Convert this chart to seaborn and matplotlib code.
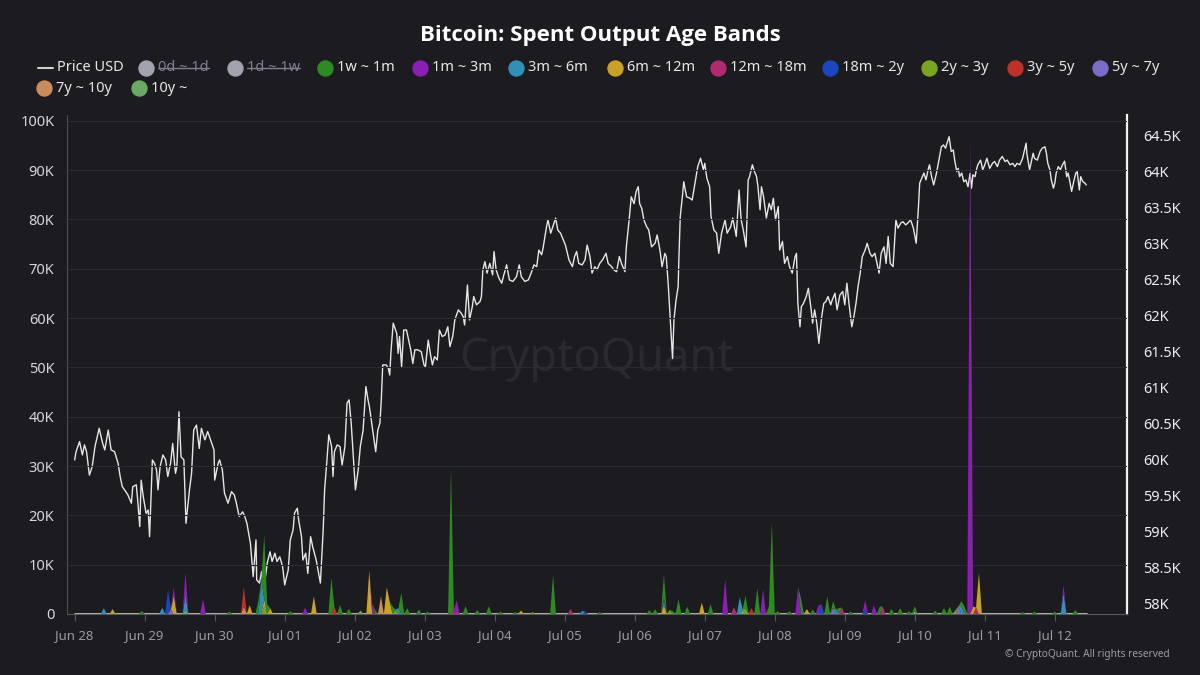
import numpy as np
import pandas as pd
import matplotlib
matplotlib.use("Agg")
import matplotlib.pyplot as plt
from matplotlib.lines import Line2D
import seaborn as sns

BG = "#1b1b20"

# x axis: days since Jun 28 00:00
day_labels = ["Jun 28", "Jun 29", "Jun 30", "Jul 01", "Jul 02", "Jul 03", "Jul 04",
              "Jul 05", "Jul 06", "Jul 07", "Jul 08", "Jul 09", "Jul 10", "Jul 11", "Jul 12"]

btc_ticks = [0, 10000, 20000, 30000, 40000, 50000, 60000, 70000, 80000, 90000, 100000]
btc_tick_labels = ["0", "10K", "20K", "30K", "40K", "50K", "60K", "70K", "80K", "90K", "100K"]
usd_ticks = [58000, 58500, 59000, 59500, 60000, 60500, 61000, 61500,
             62000, 62500, 63000, 63500, 64000, 64500]
usd_tick_labels = ["58K", "58.5K", "59K", "59.5K", "60K", "60.5K", "61K", "61.5K",
                   "62K", "62.5K", "63K", "63.5K", "64K", "64.5K"]

# Price USD
price_day = [
    0.00, 0.02, 0.07, 0.11, 0.14, 0.17, 0.21, 0.25, 0.29, 0.35,
    0.40, 0.43, 0.48, 0.52, 0.57, 0.62, 0.65, 0.68, 0.73, 0.76,
    0.81, 0.83, 0.88, 0.90, 0.93, 0.95, 0.98, 1.02, 1.05, 1.07,
    1.11, 1.14, 1.17, 1.19, 1.22, 1.26, 1.30, 1.33, 1.37, 1.40,
    1.44, 1.46, 1.49, 1.52, 1.56, 1.59, 1.62, 1.64, 1.67, 1.70,
    1.74, 1.78, 1.81, 1.86, 1.90, 1.95, 1.99, 2.00, 2.05, 2.07,
    2.11, 2.14, 2.19, 2.24, 2.28, 2.31, 2.35, 2.40, 2.43, 2.46,
    2.51, 2.55, 2.59, 2.60, 2.64, 2.67, 2.69, 2.72, 2.75, 2.79,
    2.82, 2.86, 2.89, 2.93, 2.97, 3.00, 3.05, 3.08, 3.12, 3.14,
    3.18, 3.20, 3.24, 3.26, 3.30, 3.33, 3.37, 3.40, 3.45, 3.51,
    3.55, 3.57, 3.60, 3.63, 3.67, 3.69, 3.71, 3.75, 3.79, 3.82,
    3.86, 3.89, 3.92, 3.95, 3.98, 4.01, 4.05, 4.08, 4.12, 4.16,
    4.19, 4.21, 4.25, 4.30, 4.33, 4.36, 4.38,
    4.40, 4.45, 4.48, 4.50, 4.52, 4.55, 4.60, 4.62, 4.64, 4.67,
    4.70, 4.74, 4.76, 4.80, 4.83, 4.86, 4.90, 4.95, 4.99, 5.01,
    5.05, 5.08, 5.11, 5.14, 5.18, 5.21, 5.25, 5.29, 5.33, 5.36,
    5.40, 5.43, 5.48, 5.52, 5.55, 5.57, 5.61, 5.64, 5.68, 5.70,
    5.74, 5.79, 5.81, 5.83, 5.86, 5.89, 5.93, 5.97, 5.99, 6.02,
    6.06, 6.10, 6.13, 6.17, 6.21, 6.26, 6.31, 6.35, 6.38, 6.43,
    6.48, 6.52, 6.56, 6.60, 6.63, 6.67, 6.69, 6.74, 6.76, 6.80,
    6.83, 6.87, 6.90, 6.94, 6.98, 7.01, 7.06, 7.11, 7.14, 7.17,
    7.20, 7.25, 7.29, 7.32, 7.36, 7.39, 7.43, 7.46, 7.50, 7.54,
    7.59, 7.62, 7.67, 7.70, 7.74, 7.78, 7.81, 7.86, 7.88, 7.92,
    7.95, 7.99, 8.02, 8.05, 8.07, 8.10, 8.13, 8.17, 8.20, 8.24,
    8.29, 8.32, 8.36, 8.39, 8.43, 8.45, 8.48, 8.50, 8.52, 8.54,
    8.56, 8.59, 8.62, 8.63, 8.65, 8.68, 8.70, 8.74, 8.79, 8.82,
    8.86, 8.90, 8.94, 8.98, 9.00, 9.03, 9.07, 9.09, 9.13, 9.17,
    9.20, 9.24, 9.29, 9.32, 9.37, 9.40, 9.45, 9.49, 9.52, 9.55,
    9.59, 9.62,
    9.64, 9.68, 9.71, 9.74, 9.76, 9.79, 9.81, 9.84, 9.88, 9.92,
    9.95, 9.98, 10.01, 10.05, 10.07, 10.11, 10.14, 10.18, 10.21, 10.25,
    10.29, 10.31, 10.33, 10.36, 10.38, 10.41, 10.45, 10.48, 10.52, 10.54,
    10.57, 10.60, 10.63, 10.67, 10.70, 10.73, 10.76, 10.80, 10.82, 10.86,
    10.89, 10.93, 10.97, 11.00, 11.03, 11.06, 11.10, 11.13, 11.16, 11.19,
    11.22, 11.25, 11.29, 11.32, 11.36, 11.39, 11.43, 11.46, 11.49, 11.52,
    11.56, 11.59, 11.62, 11.65, 11.69, 11.73, 11.76, 11.80, 11.83, 11.87,
    11.90, 11.94, 11.98, 12.02, 12.05, 12.07, 12.10, 12.13, 12.16, 12.19,
    12.21, 12.24, 12.27, 12.31, 12.35, 12.38, 12.41, 12.44, 12.46, 12.49,
    12.52, 12.55, 12.57, 12.60, 12.62, 12.64, 12.67, 12.70, 12.73, 12.76,
    12.79, 12.81, 12.83, 12.86, 12.88, 12.90, 12.94, 12.97, 13.00, 13.03,
    13.07, 13.11, 13.14, 13.18, 13.21, 13.25, 13.29, 13.32, 13.36, 13.40,
    13.43, 13.46, 13.50, 13.54, 13.59, 13.60, 13.64, 13.67, 13.69, 13.71,
    13.75, 13.79, 13.82, 13.86, 13.88, 13.90, 13.93, 13.95, 13.98, 14.00,
    14.02, 14.05, 14.08, 14.11, 14.14, 14.17, 14.19, 14.21, 14.24, 14.27,
    14.30, 14.32, 14.35, 14.37, 14.40, 14.43, 14.45,
]
price_usd = [
    60000, 60115, 60255, 60070, 60210, 60115, 59790, 59905, 60185, 60440,
    60230, 60140, 60415, 60140, 60115, 59955, 59770, 59630, 59560, 59515,
    59400, 59630, 59655, 59445, 59075, 59720, 59490, 59260, 59305, 58935,
    60000, 59955, 59860, 59585, 59905, 60070, 60000, 59770, 59955, 60230,
    59815, 59905, 60670, 60045, 60000, 59120, 59400, 59585, 59815, 60415,
    60485, 60160, 60440, 60280, 60395, 60255, 60140, 59720, 59955, 60000,
    59860, 59540, 59400, 59560, 59515, 59400, 59215, 59280, 59215, 59120,
    58845, 58380, 58890, 58335, 58290, 58450, 58290, 58335, 58565, 58725,
    58590, 58705, 58590, 58655, 58520, 58265, 58470, 58890, 59030, 59260,
    59330, 59165, 58935, 58610, 58705, 58425, 58935, 58795, 58610, 58290,
    59030, 59585, 59955, 60350, 60185, 59770, 60115, 60210, 60185, 59930,
    60185, 60790, 60835, 60510, 60045, 59585, 59860, 60185, 60415, 61020,
    60835, 60740, 60465, 60115, 60415, 60510, 60835,
    61320, 61320, 61275, 61180, 61530, 61900, 61760, 61480, 61715, 61295,
    61805, 61805, 61715, 61530, 61340, 61530, 61530, 61505, 61320, 61295,
    61665, 61480, 61320, 61435, 61390, 61805, 61715, 61735, 61850, 61575,
    61715, 61945, 62085, 62040, 61990, 61875, 62430, 61945, 62130, 62270,
    62155, 62200, 62270, 62640, 62755, 62595, 62730, 62570, 62895, 62640,
    62525, 62455, 62570, 62710, 62500, 62480, 62545, 62710, 62545, 62480,
    62500, 62595, 62710, 62685, 62915, 62850, 62940, 63240, 63335, 63150,
    63240, 63360, 63195, 63150, 63055, 62985, 62780, 62685, 62825, 62895,
    62730, 62710, 62780, 62985, 62825, 62595, 62685, 62640, 62730, 62780,
    62870, 62730, 62685, 62640, 62615, 62825, 62730, 62615, 62960, 63335,
    63655, 63560, 63730, 63795, 63560, 63495, 63335, 63240, 63195, 62960,
    63010, 63125, 62915, 62685, 62870, 62825, 62410, 62085, 61760, 61410,
    61945, 62220, 62410, 62780, 63380, 63655, 63865, 63655, 63635, 63610,
    63845, 64075, 64190, 64030, 64120, 63915, 63795, 63380, 63195, 63150,
    62870, 63150, 63335, 63150, 63240, 63360, 63105, 63750, 63335, 63195,
    62960, 63890,
    63935, 64100, 64005, 63935, 63795, 63475, 63795, 63655, 63360, 63565,
    63475, 63635, 63335, 63520, 62915, 63035, 62730, 62825, 62685, 62595,
    62825, 62870, 62175, 61850, 62130, 62175, 62270, 62385, 62085, 61900,
    62085, 61900, 61620, 61990, 62175, 62200, 62270, 62155, 62220, 62315,
    62085, 62290, 62340, 62155, 62455, 62175, 61850, 61990, 62175, 62410,
    62595, 62825, 62915, 63010, 62870, 62825, 62870, 62730, 62595, 62870,
    62960, 62730, 63105, 62730, 62685, 63335, 63220, 63290, 63310, 63265,
    63290, 63335, 63220, 63010, 63475, 63845, 63915, 63985, 63890, 64030,
    64100, 63935, 63820, 63985, 64190, 64350, 64375, 64330, 64400, 64490,
    64285, 64305, 64165, 64005, 64050, 63935, 63985, 63865, 63890, 63795,
    63980, 63775, 63960, 63935, 64030, 64100, 64165, 64030, 64100, 64190,
    64050, 64120, 64145, 64075, 64165, 64215, 64145, 64165, 64100, 64120,
    64075, 64120, 64100, 64190, 64400, 64260, 64030, 64165, 64260, 64190,
    64165, 64285, 64330, 64350, 64260, 64120, 64030, 63890, 63775, 63845,
    63985, 64075, 64030, 64100, 64150, 63935, 63985, 63890, 63730, 63865,
    63985, 64005, 63750, 63935, 63865, 63845, 63820,
]
assert len(price_day) == len(price_usd)

# spent output per age band, hourly; only the visible spikes (day, BTC)
sp_1w_1m = [(0.95, 600), (2.20, 500), (2.61, 2800), (2.69, 13100), (2.76, 2000), (3.10, 600),
            (3.66, 7400), (3.79, 1800), (3.90, 1000), (4.30, 800), (4.55, 1500), (4.65, 4300),
            (4.75, 1200), (4.90, 900), (5.05, 500), (5.36, 29700), (5.60, 1600), (5.75, 800),
            (5.91, 1600), (6.10, 500), (6.30, 400), (6.83, 7900), (7.50, 400), (8.20, 800),
            (8.30, 1000), (8.42, 4800), (8.55, 600), (8.64, 3000), (8.73, 1500), (9.07, 2000),
            (9.57, 2700), (9.74, 5200), (9.90, 1600), (9.94, 18600), (10.05, 600), (10.20, 600),
            (10.38, 3200), (10.55, 900), (10.77, 3600), (10.84, 1400), (10.93, 1200), (11.10, 500),
            (11.50, 1500), (11.65, 1000), (11.80, 1200), (11.90, 600), (11.98, 1100), (12.30, 700),
            (12.43, 1200), (12.50, 1500), (12.65, 1000), (12.72, 1600), (13.55, 400), (13.70, 500),
            (14.00, 500), (14.29, 800)]
sp_1m_3m = [(1.43, 1700), (1.57, 4600), (1.83, 3000), (3.29, 1300), (4.26, 2000), (5.44, 2800),
            (8.42, 600), (9.29, 7100), (9.82, 5000), (10.35, 5400), (10.62, 1700), (11.29, 1800),
            (11.41, 1800), (12.79, 97000), (14.12, 1600)]
sp_3m_6m = [(0.43, 1200), (1.24, 1300), (1.57, 3000), (2.67, 6900), (4.64, 1200), (7.26, 600),
            (8.40, 800), (9.52, 3400), (10.88, 900), (12.68, 1600), (14.12, 4300)]
sp_6m_12m = [(0.53, 1000), (1.43, 3800), (2.51, 1800), (2.72, 1500), (2.80, 1200), (3.43, 3600),
             (4.20, 8900), (4.44, 5400), (4.48, 2500), (6.36, 700), (8.42, 1800), (8.94, 2300),
             (10.46, 1000), (12.83, 1500), (12.92, 8400)]
sp_12m_18m = [(5.40, 800), (7.10, 1000), (9.40, 1400), (10.94, 1300), (11.53, 1500), (12.89, 1300)]
sp_18m_2y = [(1.35, 4900), (7.30, 500), (10.66, 2000), (11.29, 1000)]
sp_2y_3y = [(2.70, 1500), (4.58, 900), (6.55, 400), (8.48, 800), (9.60, 1000), (12.60, 800)]
sp_3y_5y = [(2.40, 4000), (3.71, 1500), (9.67, 1200)]
sp_5y_7y = [(1.37, 1000), (10.82, 1200), (12.64, 1600)]
sp_7y_10y = [(2.42, 1500), (4.36, 3600)]
sp_10y = [(1.60, 800), (4.10, 700), (9.55, 1000), (12.00, 500)]

band_labels = ["0d ~ 1d", "1d ~ 1w", "1w ~ 1m", "1m ~ 3m", "3m ~ 6m", "6m ~ 12m", "12m ~ 18m",
               "18m ~ 2y", "2y ~ 3y", "3y ~ 5y", "5y ~ 7y", "7y ~ 10y", "10y ~"]
band_colors = ["#a3a3b0", "#a3a3b0", "#2e8b22", "#8b1fb4", "#3190b7", "#c9a227", "#b02a6f",
               "#1c46c0", "#7aa51f", "#c0302a", "#7b6cc8", "#c98c5e", "#6aaa64"]
band_spikes = {"1w ~ 1m": sp_1w_1m, "1m ~ 3m": sp_1m_3m, "3m ~ 6m": sp_3m_6m,
               "6m ~ 12m": sp_6m_12m, "12m ~ 18m": sp_12m_18m, "18m ~ 2y": sp_18m_2y,
               "2y ~ 3y": sp_2y_3y, "3y ~ 5y": sp_3y_5y, "5y ~ 7y": sp_5y_7y,
               "7y ~ 10y": sp_7y_10y, "10y ~": sp_10y}

hours = np.arange(0, 348)
bands = pd.DataFrame({"day": hours / 24})
for lab, spikes in band_spikes.items():
    vals = np.zeros(len(hours))
    for d, v in spikes:
        vals[int(round(d * 24))] += v
    bands[lab] = vals

price_df = pd.DataFrame({"day": price_day, "usd": price_usd})

# ---- figure ----
sns.set_style("dark", {"axes.facecolor": BG, "figure.facecolor": BG})
plt.rcParams["font.family"] = ["Noto Sans", "DejaVu Sans"]

fig = plt.figure(figsize=(12, 6.75), dpi=100)
fig.patch.set_facecolor(BG)
ax = fig.add_axes([0.0558, 0.0904, 0.8833, 0.7393])
ax2 = ax.twinx()
ax.set_zorder(ax2.get_zorder() + 1)
ax.patch.set_visible(False)
ax2.set_facecolor(BG)

ax2.text(0.5, 0.51, "CryptoQuant", transform=ax2.transAxes, ha="center", va="center",
         fontsize=32.5, color="#29292f", zorder=0)

sns.lineplot(data=price_df, x="day", y="usd", ax=ax2, color="#e6e6e6", linewidth=1.0,
             sort=False, estimator=None, zorder=3)

# baseline of the band area
ax.plot([bands["day"].iloc[0], bands["day"].iloc[-1]], [0, 0], color="#c4c4b4",
        linewidth=1.3, zorder=1.5)

# stacked bands, last legend entry at the bottom
base = np.zeros(len(hours))
for lab in band_labels[:1:-1]:
    col = band_colors[band_labels.index(lab)]
    top = base + bands[lab].values
    ax.fill_between(bands["day"], base, top, where=top > base, interpolate=True,
                    facecolor=col, linewidth=0, zorder=2)
    base = top

ax.set_xlim(-0.11, 15.03)
ax.set_ylim(0, 101200)
ax2.set_ylim(57861, 64792)

ax.set_xticks(range(len(day_labels)))
ax.set_xticklabels(day_labels)
ax.set_yticks(btc_ticks)
ax.set_yticklabels(btc_tick_labels)
ax2.set_yticks(usd_ticks)
ax2.set_yticklabels(usd_tick_labels)
ax.set_xlabel("")
ax.set_ylabel("")
ax2.set_xlabel("")
ax2.set_ylabel("")

ax.grid(axis="y", color="#2a2a31", linewidth=0.8)
ax.grid(axis="x", visible=False)
ax2.grid(False)

ax.tick_params(axis="x", bottom=True, length=5, width=0.8, color="#55555c",
               labelcolor="#9a9aa2", labelsize=9.5, pad=6)
ax.tick_params(axis="y", left=False, length=0, labelcolor="#d6d6da", labelsize=10.5, pad=9)
ax2.tick_params(axis="y", right=False, length=0, labelcolor="#ececf0", labelsize=10.5, pad=12)

for s in ["top", "right"]:
    ax.spines[s].set_visible(False)
ax.spines["left"].set_color("#4d4d55")
ax.spines["bottom"].set_color("#55555c")
for s in ["top", "left", "bottom"]:
    ax2.spines[s].set_visible(False)
ax2.spines["right"].set_color("#f2f2f2")
ax2.spines["right"].set_linewidth(1.6)

# ---- title, legend, footer ----
W, H = 1200, 675
fx = lambda x: x / W
fy = lambda y: 1 - y / H

fig.text(0.5, fy(35), "Bitcoin: Spent Output Age Bands", ha="center", va="center",
         fontsize=16, fontweight="bold", color="white",
         family=["Open Sans", "DejaVu Sans"])

fig.add_artist(Line2D([fx(38), fx(53)], [fy(68), fy(68)], transform=fig.transFigure,
                      color="#cfcfcf", linewidth=1.5))
fig.text(fx(57), fy(67.5), "Price USD", ha="left", va="center", fontsize=10.5, color="#e6e6e6")

legend_pos = {"0d ~ 1d": (146, 67.5), "1d ~ 1w": (235, 67.5), "1w ~ 1m": (325, 67.5),
              "1m ~ 3m": (420, 67.5), "3m ~ 6m": (516, 67.5), "6m ~ 12m": (615, 67.5),
              "12m ~ 18m": (718, 67.5), "18m ~ 2y": (830, 67.5), "2y ~ 3y": (929, 67.5),
              "3y ~ 5y": (1015, 67.5), "5y ~ 7y": (1100, 67.5), "7y ~ 10y": (44, 88),
              "10y ~": (139, 88)}
hidden = ["0d ~ 1d", "1d ~ 1w"]

renderer = fig.canvas.get_renderer()
for lab, col in zip(band_labels, band_colors):
    cx, cy = legend_pos[lab]
    fig.add_artist(Line2D([fx(cx)], [fy(cy)], transform=fig.transFigure, marker="o",
                          markersize=10.8, color=col, linestyle="none"))
    t = fig.text(fx(cx + 12), fy(cy), lab, ha="left", va="center", fontsize=10.5,
                 color="#7f7f8a" if lab in hidden else "#e6e6e6")
    if lab in hidden:
        bb = t.get_window_extent(renderer)
        ym = (bb.y0 + bb.y1) / 2 / fig.bbox.height
        fig.add_artist(Line2D([bb.x0 / fig.bbox.width, bb.x1 / fig.bbox.width], [ym, ym],
                              transform=fig.transFigure, color="#7f7f8a", linewidth=1.0))

fig.text(fx(1170), fy(654), "\u00a9 CryptoQuant. All rights reserved", ha="right",
         va="center", fontsize=7.3, color="#9c9ca4")

fig.savefig("out.png", dpi=100, facecolor=BG)
